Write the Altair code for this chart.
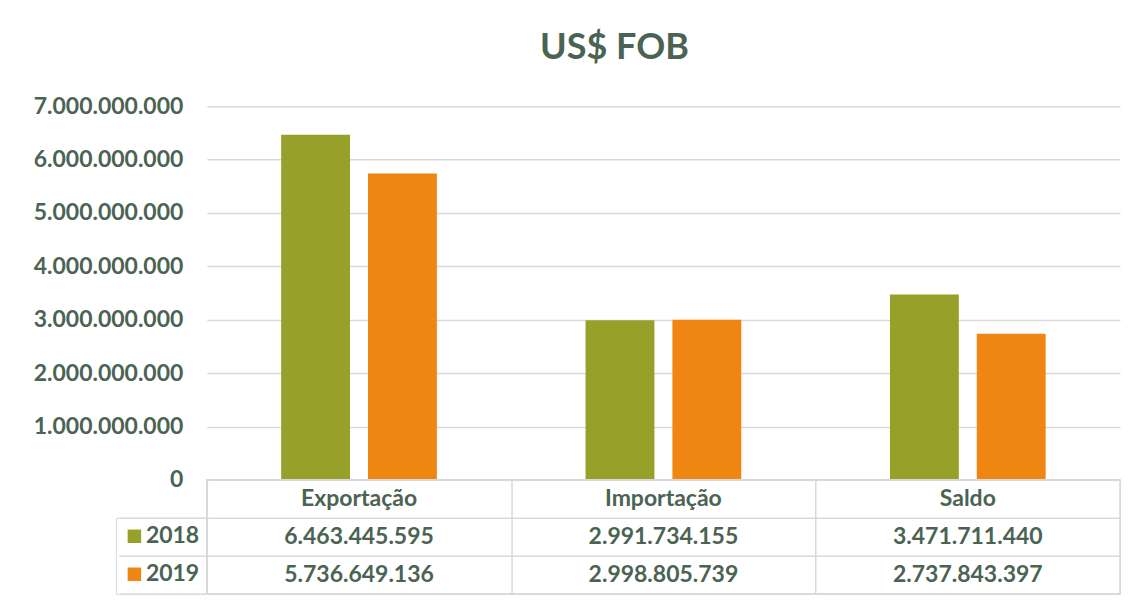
import altair as alt
import pandas as pd

categories = ["Exportação", "Importação", "Saldo"]
years = ["2018", "2019"]
values_2018 = [6463445595, 2991734155, 3471711440]
values_2019 = [5736649136, 2998805739, 2737843397]
y_ticks = [0, 1000000000, 2000000000, 3000000000, 4000000000,
           5000000000, 6000000000, 7000000000]

TEXT = "#4b6353"
GRID = "#d9d9d9"
FONT = "Lato"
COLORS = ["#97a12a", "#ef8612"]


def fmt(v):
    return f"{v:,}".replace(",", ".")


bars_df = pd.DataFrame(
    [{"cat": c, "year": "2018", "value": v} for c, v in zip(categories, values_2018)]
    + [{"cat": c, "year": "2019", "value": v} for c, v in zip(categories, values_2019)]
)

table_rows = []
for c, a, b in zip(categories, values_2018, values_2019):
    table_rows.append({"cat": c, "row": "header", "label": c})
    table_rows.append({"cat": c, "row": "2018", "label": fmt(a)})
    table_rows.append({"cat": c, "row": "2019", "label": fmt(b)})
table_df = pd.DataFrame(table_rows)

W = 914
H = 374
TH = 114

bars = alt.Chart(bars_df).mark_bar().encode(
    x=alt.X("cat:N", sort=categories, axis=None,
            scale=alt.Scale(paddingInner=0, paddingOuter=0)),
    xOffset=alt.XOffset("year:N", sort=years,
                        scale=alt.Scale(paddingInner=0.207, paddingOuter=0.856)),
    y=alt.Y("value:Q", scale=alt.Scale(domain=[0, 7000000000], nice=False),
            axis=alt.Axis(values=y_ticks, format=",d", title=None, ticks=False,
                          domain=False, grid=True, gridColor=GRID, gridWidth=1.5,
                          labelFont=FONT, labelFontSize=23, labelFontWeight="bold",
                          labelColor=TEXT, labelPadding=24)),
    color=alt.Color("year:N", sort=years,
                    scale=alt.Scale(domain=years, range=COLORS),
                    legend=alt.Legend(title=None, orient="none", legendX=-91,
                                      legendY=H + 38, symbolType="square",
                                      symbolSize=182, symbolStrokeWidth=0,
                                      labelFont=FONT, labelFontSize=23,
                                      labelFontWeight="bold", labelColor=TEXT,
                                      labelOffset=0, padding=7, rowPadding=14,
                                      strokeColor=GRID)),
).properties(
    width=W, height=H,
    title=alt.Title("US$ FOB", fontSize=36, font=FONT, fontWeight="bold",
                    color=TEXT, anchor="middle", frame="group", dx=-49,
                    baseline="alphabetic", offset=0),
)

table = alt.Chart(table_df).mark_text(
    font=FONT, fontSize=23, fontWeight="bold", color=TEXT, baseline="middle"
).encode(
    x=alt.X("cat:N", sort=categories,
            scale=alt.Scale(paddingInner=0, paddingOuter=0),
            axis=alt.Axis(orient="top", title=None, labels=False, ticks=False,
                          domain=False, grid=True, tickBand="extent",
                          gridColor=GRID, gridWidth=1.5)),
    y=alt.Y("row:N", sort=["header", "2018", "2019"],
            scale=alt.Scale(paddingInner=0, paddingOuter=0),
            axis=alt.Axis(title=None, labels=False, ticks=True, tickSize=88,
                          tickColor=GRID, tickWidth=1.5, domain=False, grid=True,
                          bandPosition=0.5, tickOffset=TH / 6,
                          gridColor=GRID, gridWidth=1.5)),
    text="label:N",
).properties(
    width=W, height=TH,
    view=alt.ViewBackground(stroke=GRID, strokeWidth=1.5),
)

chart = alt.vconcat(bars, table, spacing=0, bounds="flush").resolve_legend(
    color="independent"
).properties(
    padding={"top": 22, "left": 25, "right": 0, "bottom": 0},
).configure(
    font=FONT,
    locale={"number": {"decimal": ",", "thousands": ".", "grouping": [3],
                       "currency": ["US$", ""]}},
).configure_view(stroke=None)

chart.save("out.html", embed_options={"renderer": "svg", "actions": False})
